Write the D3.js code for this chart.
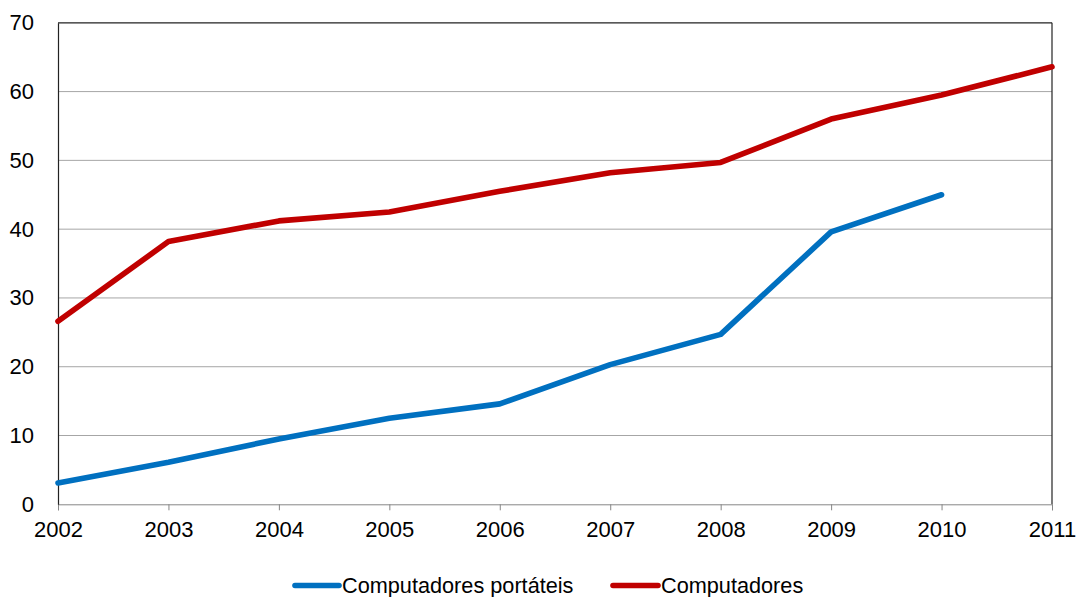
<!DOCTYPE html>
<html><head><meta charset="utf-8">
<script src="https://cdn.jsdelivr.net/npm/d3@7"></script>
<style>body{margin:0;background:#fff}svg{display:block}text{font-family:"Liberation Sans",Arial,sans-serif}</style>
</head><body><svg id="c" width="1078" height="597"></svg>
<script>
const years = [2002,2003,2004,2005,2006,2007,2008,2009,2010,2011];
const portateis = [3.1,6.1,9.5,12.5,14.6,20.3,24.7,39.6,45.0,null];
const computadores = [26.6,38.2,41.2,42.5,45.5,48.2,49.7,56.0,59.5,63.6];
const yTicks = [0,10,20,30,40,50,60,70];
const seriesNames = ["Computadores portáteis","Computadores"];
const colors = ["#0070C0","#C00000"];

const svg = d3.select("#c");
const x = d3.scaleLinear().domain([2002,2011]).range([58,1052]);
const y = d3.scaleLinear().domain([0,70]).range([504.3,22.8]);

// gridlines
svg.append("g").selectAll("line").data(yTicks.filter(d=>d>0&&d<70)).join("line")
  .attr("x1",x(2002)).attr("x2",x(2011)).attr("y1",d=>y(d)).attr("y2",d=>y(d))
  .attr("stroke","#a6a6a6").attr("stroke-width",1);
// frame top and right
svg.append("line").attr("x1",x(2002)).attr("x2",x(2011)).attr("y1",y(70)).attr("y2",y(70)).attr("stroke","#222").attr("stroke-width",1.2);
svg.append("line").attr("x1",x(2011)).attr("x2",x(2011)).attr("y1",y(70)).attr("y2",y(0)).attr("stroke","#222").attr("stroke-width",1.2);

// x axis
const xa = svg.append("g").attr("transform",`translate(0,${y(0)})`)
  .call(d3.axisBottom(x).tickValues(years).tickFormat(d3.format("d")).tickSize(6).tickPadding(11));
xa.select(".domain").attr("stroke","#868686");
xa.selectAll(".tick line").attr("stroke","#868686");
xa.selectAll("text").attr("font-size",22).attr("fill","#000").attr("font-family","Liberation Sans, Arial, sans-serif");

// y axis
const ya = svg.append("g").attr("transform",`translate(${x(2002)},0)`)
  .call(d3.axisLeft(y).tickValues(yTicks).tickSize(0).tickPadding(24));
ya.select(".domain").attr("stroke","#222").attr("stroke-width",1.2);
ya.selectAll("text").attr("font-size",22).attr("fill","#000").attr("font-family","Liberation Sans, Arial, sans-serif");

const line = d3.line().defined(d=>d[1]!=null).x(d=>x(d[0])).y(d=>y(d[1]));
[portateis, computadores].forEach((s,i)=>{
  svg.append("path").datum(years.map((yr,j)=>[yr,s[j]]))
    .attr("d",line).attr("fill","none").attr("stroke",colors[i])
    .attr("stroke-width",5.6).attr("stroke-linejoin","round").attr("stroke-linecap","round");
});
// legend
const leg = [{x:295,tx:342},{x:613,tx:661}];
seriesNames.forEach((n,i)=>{
  svg.append("line").attr("x1",leg[i].x).attr("x2",leg[i].tx-3).attr("y1",585.5).attr("y2",585.5)
    .attr("stroke",colors[i]).attr("stroke-width",5.6).attr("stroke-linecap","round");
  svg.append("text").attr("x",leg[i].tx).attr("y",592.5)
    .attr("font-size",21.7).attr("fill","#000").text(n);
});
</script></body></html>
